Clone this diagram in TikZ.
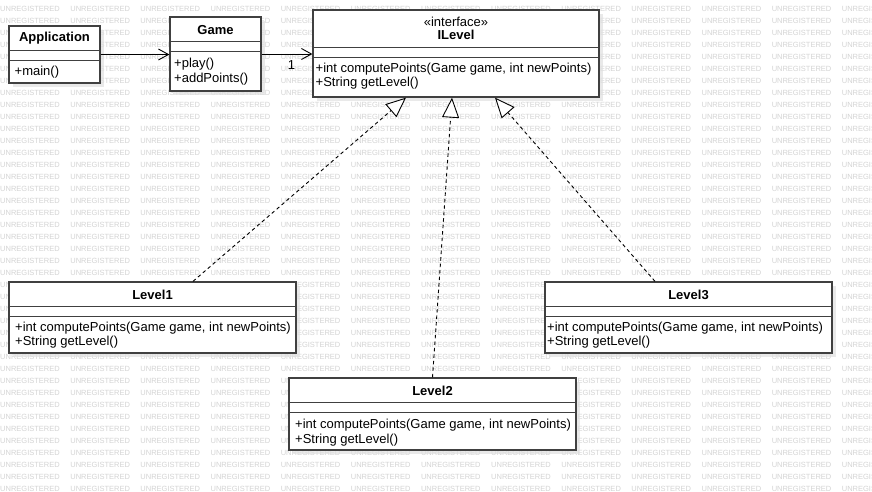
\documentclass[tikz,border=0pt]{standalone}
\usepackage{fontspec}
\setmainfont{Liberation Sans}
\usetikzlibrary{positioning,calc,arrows.meta,shadows}

\begin{document}
\begin{tikzpicture}[x=1pt,y=-1pt,
  cls/.style={draw=black!75,line width=1.3pt,fill=white,inner sep=0pt,
    drop shadow={shadow xshift=4pt,shadow yshift=-4pt,fill=black!12,opacity=.7}},
  sep/.style={draw=black!75,line width=1.3pt},
  ttl/.style={font=\fontsize{13}{15}\selectfont\bfseries,inner sep=0pt},
  mem/.style={font=\fontsize{13}{15}\selectfont,inner sep=0pt,anchor=west,text height=9.5pt,text depth=3pt},
  assoc/.style={-{Straight Barb[length=10pt,width=11pt]},line width=.9pt},
  impl/.style={-{Triangle[open,length=20pt,width=17pt,fill=white]},line width=.9pt,dash pattern=on 3.5pt off 3pt},
  wm/.style={font=\fontsize{7.5}{8}\selectfont,text=black!17,inner sep=0pt,anchor=west}]
\path[use as bounding box,fill=white] (0,0) rectangle (872,491);
\foreach \r in {0,...,40}
  \foreach \c in {0,...,12}
    \node[wm] (wm-\r-\c) at (70.14*\c,9+12*\r) {UNREGISTERED};

\node[cls,minimum width=91pt,minimum height=57pt] (app) at (54.5,54.5) {};
\draw[sep] ($(app.north west)+(0,25)$) -- ($(app.north east)+(0,25)$);
\draw[sep] ($(app.north west)+(0,35)$) -- ($(app.north east)+(0,35)$);
\node[ttl] (app-t) at (54.5,38) {Application};
\node[mem] (app-m1) at (14.5,72) {+main()};

\node[cls,minimum width=91pt,minimum height=74pt] (game) at (215.5,54) {};
\draw[sep] ($(game.north west)+(0,25)$) -- ($(game.north east)+(0,25)$);
\draw[sep] ($(game.north west)+(0,35)$) -- ($(game.north east)+(0,35)$);
\node[ttl] (game-t) at (215.5,30.5) {Game};
\node[mem] (game-m1) at (174,64) {+play()};
\node[mem] (game-m2) at (174,79) {+addPoints()};

\node[cls,minimum width=286pt,minimum height=87pt] (il) at (456,53.5) {};
\draw[sep] ($(il.north west)+(0,38)$) -- ($(il.north east)+(0,38)$);
\draw[sep] ($(il.north west)+(0,48)$) -- ($(il.north east)+(0,48)$);
\node[font=\fontsize{13}{15}\selectfont,inner sep=0pt] (il-s) at (456,21.7) {«interface»};
\node[ttl] (il-t) at (456,35) {ILevel};
\node[mem] (il-m1) at (315.5,69.5) {+int computePoints(Game game, int newPoints)};
\node[mem] (il-m2) at (315.5,83.5) {+String getLevel()};

\node[cls,minimum width=287pt,minimum height=71pt] (l1) at (152.5,317.5) {};
\draw[sep] ($(l1.north west)+(0,25)$) -- ($(l1.north east)+(0,25)$);
\draw[sep] ($(l1.north west)+(0,35)$) -- ($(l1.north east)+(0,35)$);
\node[ttl] (l1-t) at (152.5,295) {Level1};
\node[mem] (l1-m1) at (15,328.5) {+int computePoints(Game game, int newPoints)};
\node[mem] (l1-m2) at (15,342.5) {+String getLevel()};

\node[cls,minimum width=287pt,minimum height=72pt] (l2) at (432.5,414) {};
\draw[sep] ($(l2.north west)+(0,25)$) -- ($(l2.north east)+(0,25)$);
\draw[sep] ($(l2.north west)+(0,35)$) -- ($(l2.north east)+(0,35)$);
\node[ttl] (l2-t) at (432.5,391) {Level2};
\node[mem] (l2-m1) at (295,425.5) {+int computePoints(Game game, int newPoints)};
\node[mem] (l2-m2) at (295,440) {+String getLevel()};

\node[cls,minimum width=287pt,minimum height=71pt] (l3) at (688.5,317.5) {};
\draw[sep] ($(l3.north west)+(0,25)$) -- ($(l3.north east)+(0,25)$);
\draw[sep] ($(l3.north west)+(0,35)$) -- ($(l3.north east)+(0,35)$);
\node[ttl] (l3-t) at (688.5,295) {Level3};
\node[mem] (l3-m1) at (547,328.5) {+int computePoints(Game game, int newPoints)};
\node[mem] (l3-m2) at (547,342.5) {+String getLevel()};

\draw[assoc] (app.east) -- (app.east -| game.west);
\draw[assoc] (game.east) -- (game.east -| il.west);
\node[font=\fontsize{13}{15}\selectfont,inner sep=0pt] (mult) at (291.5,65) {1};

\draw[impl] ([xshift=40.5pt]l1.north) -- ([xshift=-50pt]il.south);
\draw[impl] (l2.north) -- ([xshift=-4pt]il.south);
\draw[impl] ([xshift=-33.5pt]l3.north) -- ([xshift=39pt]il.south);
\end{tikzpicture}
\end{document}
